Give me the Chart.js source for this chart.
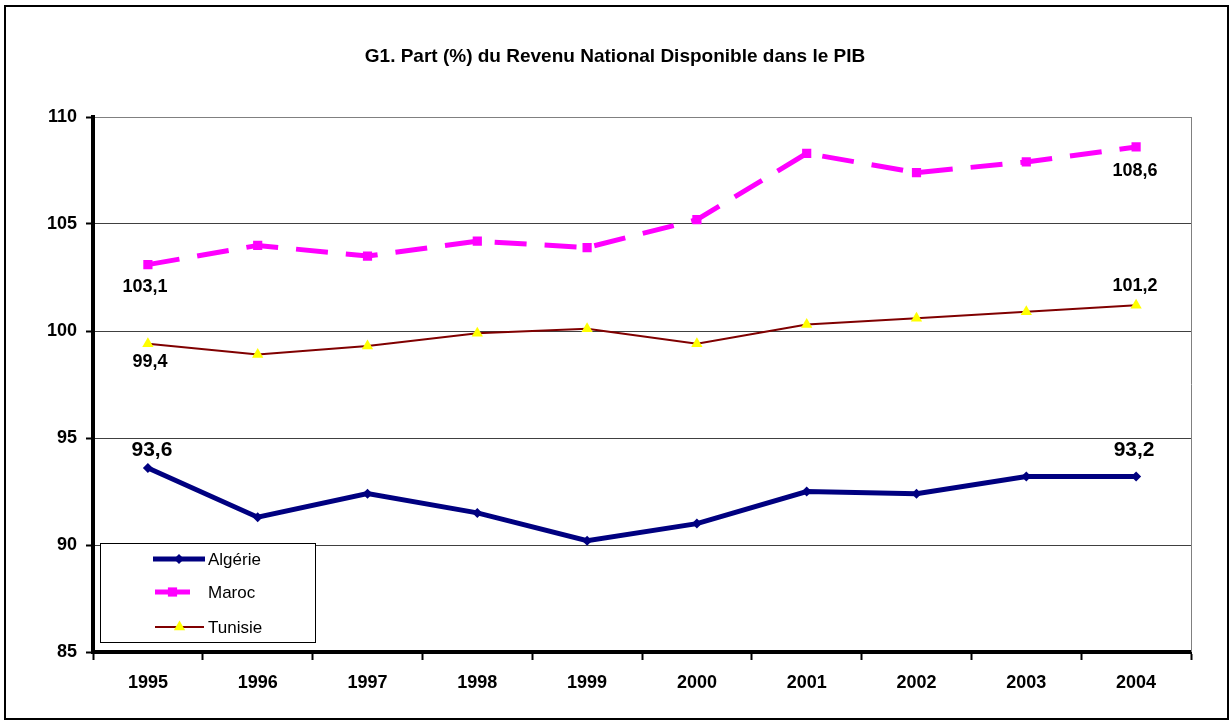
<!DOCTYPE html>
<html>
<head>
<meta charset="utf-8">
<script src="https://cdn.jsdelivr.net/npm/chart.js@4/dist/chart.umd.min.js"></script>
<style>
  body { margin: 0; background: #fff; }
  #wrap { width: 1230px; height: 725px; }
</style>
</head>
<body>
<div id="wrap"><canvas id="chart" width="1230" height="725"></canvas></div>
<script>
// Data
const years = ['1995', '1996', '1997', '1998', '1999', '2000', '2001', '2002', '2003', '2004'];
const algerie = [93.6, 91.3, 92.4, 91.5, 90.2, 91.0, 92.5, 92.4, 93.2, 93.2];
const maroc = [103.1, 104.0, 103.5, 104.2, 103.9, 105.2, 108.3, 107.4, 107.9, 108.6];
const tunisie = [99.4, 98.9, 99.3, 99.9, 100.1, 99.4, 100.3, 100.6, 100.9, 101.2];
const yMin = 85, yMax = 110, yStep = 5;

const FONT = "'Liberation Sans', Arial, sans-serif";

// Value labels on first and last points (dataset index, point index, offset)
const pointLabels = [
  { ds: 0, i: 0, dx: 4, dy: -18, size: 21 },
  { ds: 0, i: 9, dx: -2, dy: -26, size: 21 },
  { ds: 1, i: 0, dx: -3, dy: 22, size: 18 },
  { ds: 1, i: 9, dx: -1, dy: 24, size: 18 },
  { ds: 2, i: 0, dx: 2, dy: 18, size: 18 },
  { ds: 2, i: 9, dx: -1, dy: -19, size: 18 }
];

const framePlugin = {
  id: 'frame',
  beforeDraw(chart) {
    const ctx = chart.ctx;
    ctx.save();
    ctx.fillStyle = '#fff';
    ctx.fillRect(0, 0, chart.width, chart.height);
    ctx.strokeStyle = '#000';
    ctx.lineWidth = 2;
    ctx.strokeRect(5, 6, 1223, 713);
    ctx.restore();
  },
  beforeDatasetsDraw(chart) {
    const { ctx, chartArea } = chart;
    ctx.save();
    ctx.strokeStyle = '#808080';
    ctx.lineWidth = 1;
    ctx.beginPath();
    ctx.moveTo(chartArea.right + 0.5, chartArea.top);
    ctx.lineTo(chartArea.right + 0.5, chartArea.bottom);
    ctx.stroke();
    ctx.restore();
  }
};

const labelPlugin = {
  id: 'pointValues',
  afterDatasetsDraw(chart) {
    const ctx = chart.ctx;
    ctx.save();
    ctx.fillStyle = '#000';
    ctx.textAlign = 'center';
    ctx.textBaseline = 'middle';
    pointLabels.forEach(l => {
      const pt = chart.getDatasetMeta(l.ds).data[l.i];
      const v = chart.data.datasets[l.ds].data[l.i];
      ctx.font = 'bold ' + l.size + 'px ' + FONT;
      ctx.fillText(v.toFixed(1).replace('.', ','), pt.x + l.dx, pt.y + l.dy);
    });
    ctx.restore();
  }
};

const legendPlugin = {
  id: 'boxLegend',
  afterDraw(chart) {
    const ctx = chart.ctx;
    const bx = 100, by = 543, bw = 215, bh = 99;
    ctx.save();
    ctx.fillStyle = '#fff';
    ctx.fillRect(bx, by, bw, bh);
    ctx.strokeStyle = '#000';
    ctx.lineWidth = 1;
    ctx.strokeRect(bx + 0.5, by + 0.5, bw, bh);

    const rows = [
      { y: 559, x0: 153, x1: 205 },
      { y: 592, x0: 155, x1: 190 },
      { y: 627, x0: 155, x1: 204 }
    ];
    chart.data.datasets.forEach((ds, k) => {
      const r = rows[k];
      ctx.strokeStyle = ds.borderColor;
      ctx.lineWidth = ds.borderWidth;
      ctx.setLineDash([]);
      ctx.beginPath();
      ctx.moveTo(r.x0, r.y);
      ctx.lineTo(r.x1, r.y);
      ctx.stroke();
      ctx.fillStyle = ds.pointBackgroundColor;
      Chart.helpers.drawPoint(ctx, {
        pointStyle: ds.pointStyle,
        radius: ds.pointRadius,
        rotation: 0,
        borderWidth: 0
      }, (r.x0 + r.x1) / 2, r.y);
      ctx.fillStyle = '#000';
      ctx.font = '17px ' + FONT;
      ctx.textAlign = 'left';
      ctx.textBaseline = 'middle';
      ctx.fillText(ds.label, 208, r.y + 1);
    });
    ctx.restore();
  }
};

new Chart(document.getElementById('chart'), {
  type: 'line',
  data: {
    labels: years,
    datasets: [
      {
        label: 'Algérie',
        data: algerie,
        borderColor: '#000080',
        borderWidth: 5,
        pointStyle: 'rectRot',
        pointRadius: 5,
        pointBackgroundColor: '#000080',
        pointBorderWidth: 0,
        tension: 0
      },
      {
        label: 'Maroc',
        data: maroc,
        borderColor: '#FF00FF',
        borderWidth: 5,
        borderDash: [32, 18],
        pointStyle: 'rect',
        pointRadius: 6.5,
        pointBackgroundColor: '#FF00FF',
        pointBorderWidth: 0,
        tension: 0
      },
      {
        label: 'Tunisie',
        data: tunisie,
        borderColor: '#800000',
        borderWidth: 2,
        pointStyle: 'triangle',
        pointRadius: 6.5,
        pointBackgroundColor: '#FFFF00',
        pointBorderWidth: 0,
        tension: 0
      }
    ]
  },
  options: {
    responsive: false,
    animation: false,
    devicePixelRatio: 1,
    layout: { padding: { left: 39, right: 39, top: 0, bottom: 0 } },
    plugins: {
      legend: { display: false },
      tooltip: { enabled: false },
      title: {
        display: true,
        text: 'G1. Part (%) du Revenu National Disponible dans le PIB',
        color: '#000',
        font: { family: FONT, size: 19, weight: 'bold' },
        padding: { top: 45, bottom: 49.2 }
      }
    },
    scales: {
      x: {
        offset: true,
        afterFit(scale) { scale.height = 73; },
        grid: {
          offset: true,
          drawOnChartArea: false,
          drawTicks: true,
          tickLength: 8,
          tickColor: '#000',
          tickWidth: 2
        },
        border: { color: '#000', width: 4 },
        ticks: {
          color: '#000',
          padding: 12,
          maxRotation: 0,
          font: { family: FONT, size: 18, weight: 'bold' }
        }
      },
      y: {
        min: yMin,
        max: yMax,
        afterFit(scale) { scale.width = 54; },
        grid: {
          color: ctx => (ctx.tick && ctx.tick.value === yMax) ? '#808080' : '#404040',
          lineWidth: 1,
          tickLength: 7,
          tickColor: '#000',
          tickWidth: 2
        },
        border: { color: '#000', width: 4 },
        ticks: {
          stepSize: yStep,
          color: '#000',
          padding: 9,
          font: { family: FONT, size: 18, weight: 'bold' }
        }
      }
    }
  },
  plugins: [framePlugin, labelPlugin, legendPlugin]
});
</script>
</body>
</html>
